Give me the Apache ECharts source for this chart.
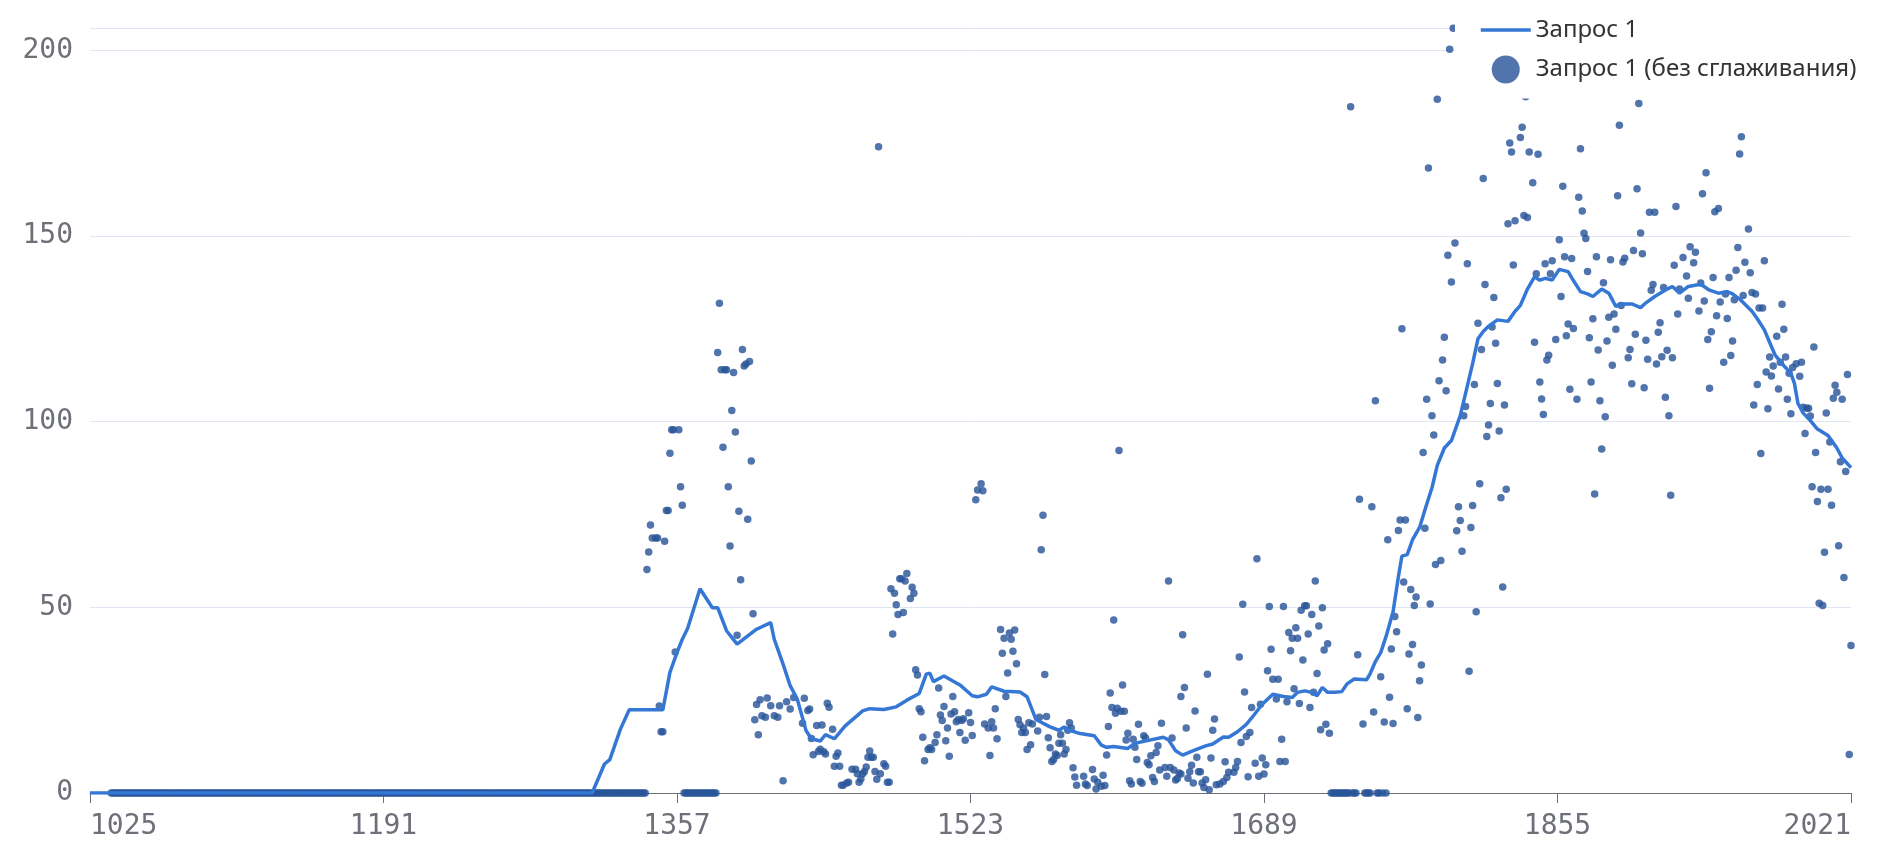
<!DOCTYPE html>
<html>
<head>
<meta charset="utf-8">
<script src="https://cdn.jsdelivr.net/npm/echarts@6/dist/echarts.min.js"></script>
<style>
  html, body { margin: 0; padding: 0; background: #fff; }
  #chart { width: 1888px; height: 850px; }
</style>
</head>
<body>
<div id="chart"></div>
<script>
// ---- data ----
const firstYear = 1025;
const lastYear = 2021;
const tickYears = [1025, 1191, 1357, 1523, 1689, 1855, 2021];
const yMax = 206;
const smoothName = 'Запрос 1';
const rawName = 'Запрос 1 (без сглаживания)';

// runs of years whose raw value is 0 (the thick band on the axis)
const zeroRuns = [[1037, 1339], [1361, 1379], [1727, 1737], [1739, 1741], [1746, 1749], [1753, 1754], [1756, 1756], [1758, 1758]];

// raw (unsmoothed) values: [year, value]
const raw1300s = [
  [1340,60.2],[1341,64.9],[1342,72.2],[1343,68.7],[1345,68.7],[1346,68.7],[1347,23.4],[1348,16.5],[1349,16.5],
  [1350,67.8],[1351,76.1],[1352,76.1],[1353,91.5],[1354,97.8],[1355,97.8],[1356,38],[1358,97.8],[1359,82.5],[1360,77.5],
  [1380,118.6],[1381,131.9],[1382,114],[1383,93.1],[1384,114],[1385,114],[1386,82.5],[1387,66.5],[1388,103],[1389,113.2],
  [1390,97.2],[1391,42.5],[1392,75.9],[1393,57.4],[1394,119.4],[1395,115],[1396,115.5],[1397,73.7],[1398,116.2],[1399,89.4]
];
const raw1400s = [
  [1400,48.3],[1401,19.7],[1402,23.8],[1403,15.7],[1404,25.1],[1405,20.8],[1407,20.4],[1408,25.6],[1410,23.5],[1412,20.8],
  [1414,20.4],[1415,23.5],[1417,3.3],[1419,24.6],[1421,22.6],[1423,25.7],[1428,18.8],[1429,25.5],[1431,22.2],[1432,22.6],
  [1433,14.7],[1434,10.3],[1436,18.2],[1437,11.2],[1438,11.8],[1439,18.3],[1440,11.1],[1441,10.5],[1442,24.2],[1443,23.1],
  [1445,17.2],[1446,7.2],[1447,9.9],[1448,10.8],[1449,7.2],[1450,2.1],[1451,2.1],[1453,2.7],[1454,2.9],[1456,6.4],
  [1458,6.4],[1459,5.2],[1460,2.9],[1461,3.8],[1462,5.2],[1463,5.8],[1464,7],[1465,9.6],[1466,11.3],[1467,9.6],
  [1468,9.6],[1469,5.8],[1470,3.7],[1471,174],[1472,5.2],[1474,7.9],[1475,7.2],[1476,2.9],[1477,2.9],[1478,55],
  [1479,42.8],[1480,53.8],[1481,50.7],[1482,48.1],[1483,57.7],[1484,57.7],[1485,48.6],[1486,57.1],[1487,59.1],[1489,52.4],
  [1490,55.4],[1491,53.8],[1492,33.2],[1493,31.8],[1494,22.7],[1495,21.9],[1496,15],[1497,8.7],[1499,11.7]
];
const raw1500s = [
  [1500,12.2],[1501,11.7],[1503,13.6],[1504,15.7],[1505,28.3],[1506,21],[1507,19.5],[1508,23.3],[1509,14.1],[1510,17.5],
  [1511,9.9],[1512,21.3],[1513,26],[1514,21.9],[1515,19.2],[1516,19.8],[1517,16.3],[1518,19.5],[1519,20],[1520,14.2],
  [1522,21.6],[1523,19],[1524,15.5],[1526,79],[1527,81.6],[1529,83.3],[1530,81.4],[1531,18.6],[1533,17.5],[1534,10.1],
  [1535,19.2],[1536,17.5],[1537,22.7],[1538,14.6],[1540,44],[1541,37.6],[1542,41.7],[1543,26],[1544,32.3],[1545,43.1],
  [1546,41.4],[1547,38.2],[1548,43.9],[1549,34.8],[1550,19.8],[1551,18.4],[1552,16.3],[1553,17.5],[1554,16.3],[1555,11.7],
  [1556,18.9],[1557,13],[1558,18.6],[1561,16.7],[1562,20.4],[1563,65.5],[1564,74.8],[1565,31.9],[1566,20.6],[1567,14.9],
  [1568,12.2],[1569,8.5],[1570,9],[1571,10.5],[1572,10.1],[1573,13.4],[1574,15.7],[1575,13.4],[1576,10.5],[1577,11.7],
  [1578,16.9],[1579,18.9],[1580,17.5],[1581,6.8],[1582,4.3],[1583,2.1],[1587,4.5],[1588,2.4],[1589,2],[1592,6.3],
  [1593,3.8],[1594,1.1],[1595,2.9],[1597,1.8],[1598,4.8],[1599,2]
];
const raw1600s = [
  [1600,10.2],[1601,17.9],[1602,26.9],[1603,23],[1604,46.6],[1605,21.5],[1606,22.8],[1607,92.2],[1608,22],[1609,29.1],
  [1610,22],[1611,14.3],[1612,16.1],[1613,3.3],[1614,2.4],[1615,14.5],[1616,12.3],[1617,9],[1618,18.5],[1619,3.1],
  [1620,2.6],[1621,15.4],[1622,14.8],[1623,8.2],[1624,7.6],[1625,10],[1626,4.2],[1627,3.1],[1628,10.9],[1629,12.7],
  [1630,6.2],[1631,18.8],[1633,6.9],[1634,4.5],[1635,57.1],[1636,6.9],[1637,14.8],[1638,6.2],[1639,3.5],[1640,3.9],
  [1641,5.4],[1642,5.1],[1642,26],[1643,42.6],[1644,28.4],[1645,17.5],[1646,4],[1647,5.7],[1648,7.5],[1649,2.7],
  [1650,22.1],[1651,9.6],[1652,5.7],[1653,5.7],[1654,2.7],[1655,1.5],[1656,3.6],[1657,32],[1658,0.9],[1659,9.4],
  [1660,16.9],[1661,19.9],[1662,2.2],[1664,2.4],[1666,3.1],[1667,8.4],[1668,4.2],[1669,5.6],[1672,5.6],[1673,6.9],
  [1674,8.5],[1675,36.6],[1676,13.6],[1677,50.8],[1678,27.2],[1679,15.2],[1680,4.4],[1681,16.3],[1682,23],[1684,8],
  [1685,63.1],[1686,4.5],[1687,23.9],[1688,9.4],[1689,5.1],[1690,7.6],[1691,32.9],[1692,50.2],[1693,38.7],[1694,30.6],
  [1696,25.3],[1697,30.6],[1698,8.5],[1699,14.5]
];
const raw1700s = [
  [1700,50.2],[1701,8.5],[1702,24.6],[1703,43.2],[1704,38.3],[1705,41.7],[1706,28.1],[1707,44.5],[1708,41.7],[1709,24.1],
  [1710,49.2],[1711,35.8],[1712,50.4],[1713,50.4],[1714,42.8],[1715,23],[1716,48.1],[1717,27.1],[1718,57.1],[1719,32.2],
  [1720,45],[1721,17],[1722,49.9],[1723,38.5],[1724,18.5],[1725,40.2],[1726,16.1],[1738,184.8],[1742,37.2],[1743,79.1],
  [1745,18.6],[1750,77.1],[1751,21.8],[1752,105.6],[1755,31.3],[1757,19.1],[1759,68.2],[1760,25.8],[1761,38.8],[1762,18.7],
  [1763,47.5],[1764,43.4],[1765,70.7],[1766,73.5],[1767,125],[1768,56.8],[1769,73.5],[1770,22.7],[1771,37.4],[1772,54.8],
  [1773,40],[1774,50.5],[1775,52.8],[1776,20.3],[1777,30.2],[1778,34.5],[1779,91.7],[1780,71.3],[1781,106],[1782,168.3],
  [1783,50.9],[1784,101.6],[1785,96.4],[1786,61.5],[1787,186.8],[1788,111],[1789,62.6],[1790,116.6],[1791,122.7],[1792,108.3],
  [1793,144.8],[1794,200.3],[1795,137.6],[1796,205.9],[1797,148.1],[1798,70.6],[1799,77.1]
];
const raw1800s = [
  [1800,73.4],[1801,65.1],[1802,101.6],[1803,104.1],[1804,142.5],[1805,32.8],[1806,71.5],[1807,77.4],[1808,110],[1809,48.8],
  [1810,126.5],[1811,83.3],[1812,119.4],[1813,165.5],[1814,136.9],[1815,96],[1816,99.1],[1817,104.9],[1818,125.5],[1819,133.4],
  [1820,121.1],[1821,110.3],[1822,97.5],[1823,79.5],[1824,55.5],[1825,104.5],[1826,81.8],[1827,153.3],[1828,175],[1829,172.6],
  [1830,142.2],[1831,154.1],[1834,176.5],[1835,179.3],[1836,155.5],[1837,187.5],[1838,155],[1839,172.6],[1841,164.3],[1842,121.4],
  [1843,139.8],[1844,172],[1845,110.7],[1846,106.1],[1847,101.9],[1848,142.5],[1849,116.6],[1850,117.9],[1851,139.8],[1852,143.3],
  [1854,122.1],[1856,149],[1857,133.7],[1858,163.4],[1859,144.4],[1860,123.1],[1861,126.3],[1862,108.7],[1863,143.9],[1864,125.1],
  [1866,106],[1867,160.4],[1868,173.5],[1869,156.7],[1870,150.7],[1871,149.3],[1872,140.4],[1873,122.6],[1874,110.7],[1875,127.7],
  [1876,80.5],[1877,144.4],[1878,119.3],[1879,105.6],[1880,92.6],[1881,137.4],[1882,101.3],[1883,121.7],[1884,128.1],[1885,143.6],
  [1886,115.2],[1887,129],[1888,124.9],[1889,160.8],[1890,179.8],[1891,131.3],[1892,143],[1893,144],[1895,117.2],[1896,119.4],
  [1897,110.2],[1898,146.1],[1899,123.5]
];
const raw1900s = [
  [1900,162.7],[1901,185.7],[1902,150.8],[1903,145.2],[1904,109.1],[1905,121.9],[1906,116.8],[1907,156.4],[1908,135.4],[1909,136.9],
  [1910,156.4],[1911,115.5],[1912,124.1],[1913,126.6],[1914,117.5],[1915,136.1],[1916,106.6],[1917,119.2],[1918,101.6],[1919,80.2],
  [1920,117.2],[1921,142.1],[1922,157.9],[1923,129],[1924,135.7],[1926,144.2],[1928,139.2],[1929,133.2],[1930,147.1],[1932,142.8],
  [1933,145.6],[1935,129.8],[1936,137.3],[1937,161.4],[1938,132.5],[1939,167],[1940,122.1],[1941,109],[1942,124.2],[1943,138.8],
  [1944,156.5],[1945,128.5],[1946,157.4],[1947,132.2],[1949,116],[1950,134.4],[1951,127.8],[1952,138.8],[1953,117.8],[1954,121.7],
  [1955,132.8],[1956,140.8],[1957,146.9],[1958,172.1],[1959,176.7],[1960,134],[1961,142.9],[1963,151.9],[1964,140.1],[1965,134.8],
  [1966,104.5],[1967,134.4],[1968,110],[1969,130.6],[1970,91.4],[1971,130.6],[1972,143.3],[1973,113.4],[1974,103.5],[1975,117.4],
  [1976,112.3],[1977,115],[1979,123],[1980,108.8],[1981,116],[1982,131.6],[1983,124.9],[1984,117.4],[1985,106],[1986,113],
  [1987,102.1],[1988,114.6],[1990,115.6],[1992,112.2],[1993,116],[1994,103.9],[1995,96.8],[1996,103.6],[1997,103.6],[1998,101.5],
  [1999,82.5]
];
const raw2000s = [
  [2000,120.1],[2001,91.7],[2002,78.5],[2003,51.1],[2004,81.8],[2005,50.5],[2006,64.8],[2007,102.3],[2008,81.8],[2009,94.5],
  [2010,77.5],[2011,106.3],[2012,109.8],[2013,107.9],[2014,66.6],[2015,89.2],[2016,106],[2017,58],[2018,86.6],[2019,112.7],
  [2020,10.4],[2021,39.7]
];

// smoothed line, read at its visible vertices: [year, value]
const smoothPoints = [
  [1025,0],[1309,0],[1316,7.8],[1319,9],[1325,17.2],[1330,22.4],[1349,22.4],[1353,32.5],[1357,37.8],[1360,41.4],
  [1363,44.3],[1370,55],[1377,49.9],[1380,49.9],[1385,43.7],[1391,40.1],[1402,44.1],[1410,45.9],[1412,41.4],[1417,34.7],
  [1421,28.9],[1425,25.3],[1430,16.8],[1433,14.6],[1438,14],[1441,15.7],[1446,14.6],[1452,18],[1462,22.1],[1466,22.7],
  [1474,22.5],[1481,23.2],[1487,25],[1494,26.8],[1498,32],[1500,32.3],[1502,30],[1508,31.5],[1517,29.1],[1524,26.2],
  [1527,25.9],[1532,26.6],[1535,28.6],[1542,27.4],[1551,27.2],[1555,25.9],[1560,19.8],[1568,17.8],[1573,16.9],[1576,17.8],
  [1579,16.9],[1585,16],[1593,15.4],[1597,12.9],[1600,12.3],[1604,12.5],[1612,12],[1616,13.4],[1623,14.1],[1632,15],
  [1635,14.3],[1639,11.4],[1643,10.2],[1649,11.4],[1656,12.7],[1660,13.2],[1666,15.1],[1669,15],[1674,16.5],[1679,18.5],
  [1683,20.8],[1688,23.9],[1694,26.6],[1700,26],[1705,25.7],[1708,27.1],[1712,27.5],[1716,27.1],[1719,26.2],[1722,28.4],
  [1725,27.1],[1729,27.1],[1733,27.3],[1736,29.4],[1740,30.7],[1747,30.5],[1749,32.1],[1752,35.4],[1755,37.8],[1758,42.1],
  [1762,48.8],[1765,58.2],[1767,63.8],[1770,64.2],[1773,68.2],[1777,71.5],[1780,76.2],[1784,82.2],[1787,88.2],[1791,92.9],
  [1795,94.9],[1797,97.6],[1800,101.6],[1803,107.6],[1807,115.6],[1810,122.3],[1813,124.3],[1816,125.7],[1821,127.4],[1827,127],
  [1831,129.7],[1834,131.3],[1838,135.7],[1842,139],[1845,138.1],[1848,138.6],[1852,138.1],[1856,141],[1861,140.4],[1864,138],
  [1868,135],[1872,134.4],[1875,133.7],[1880,135.7],[1884,134.6],[1888,131],[1890,131.7],[1897,131.7],[1902,130.7],[1905,132],
  [1910,133.7],[1917,135.7],[1920,136.4],[1924,134.6],[1929,136.4],[1936,137],[1941,135.4],[1946,134.6],[1951,135],[1954,134.4],
  [1958,133],[1965,129.7],[1968,127.7],[1972,124.7],[1975,121.3],[1978,118],[1982,115.6],[1987,113],[1989,110.3],[1991,104.9],
  [1994,102.3],[1998,100.3],[2002,98],[2008,96.3],[2013,92.9],[2016,90.2],[2021,87.6]
];

// ---- build series data ----
const zeroPoints = [];
zeroRuns.forEach(([a, b]) => { for (let y = a; y <= b; y++) zeroPoints.push([y, 0]); });
const rawPoints = zeroPoints.concat(raw1300s, raw1400s, raw1500s, raw1600s, raw1700s, raw1800s, raw1900s, raw2000s);

const lineColor = '#3577d4';
const axisFont = "'DejaVu Sans Mono', monospace";
const chart = echarts.init(document.getElementById('chart'), null, { renderer: 'canvas' });
chart.setOption({
  animation: false,
  backgroundColor: '#ffffff',
  grid: { left: 90, right: 37, top: 28, bottom: 57, containLabel: false },
  legend: {
    orient: 'vertical',
    left: 1455,
    top: 4,
    padding: [14, 24, 15, 24],
    backgroundColor: '#ffffff',
    itemWidth: 50,
    itemHeight: 28,
    itemGap: 13.5,
    itemTextGap: 10,
    data: [
      { name: smoothName, itemStyle: { opacity: 0 }, lineStyle: { width: 3.5, color: lineColor } },
      { name: rawName }
    ],
    textStyle: { fontSize: 24, color: '#333333', fontFamily: "'Noto Sans', sans-serif" },
    z: 10
  },
  xAxis: {
    type: 'value',
    min: firstYear,
    max: lastYear,
    axisLine: { show: true, lineStyle: { color: '#6E7079', width: 1 } },
    axisTick: { show: true, length: 10, customValues: tickYears, lineStyle: { color: '#6E7079' } },
    axisLabel: {
      customValues: tickYears,
      fontSize: 28,
      fontFamily: axisFont,
      color: '#6E7079',
      margin: 20,
      alignMinLabel: 'left',
      alignMaxLabel: 'right',
      formatter: v => String(v)
    },
    splitLine: { show: false }
  },
  yAxis: {
    type: 'value',
    min: 0,
    max: yMax,
    interval: 50,
    axisLine: { show: false },
    axisTick: { show: false },
    axisLabel: { showMaxLabel: false, fontSize: 28, fontFamily: axisFont, color: '#6E7079', margin: 17 },
    splitLine: { lineStyle: { color: '#E0E6F1', width: 1 } }
  },
  series: [
    {
      name: rawName,
      type: 'scatter',
      data: rawPoints,
      symbol: 'circle',
      symbolSize: 7.5,
      itemStyle: { color: '#2a5698', opacity: 0.82 },
      z: 2,
      silent: true
    },
    {
      name: smoothName,
      type: 'line',
      data: smoothPoints,
      symbol: 'none',
      lineStyle: { width: 3.5, color: lineColor },
      itemStyle: { color: lineColor },
      z: 3,
      silent: true
    }
  ]
});
</script>
</body>
</html>
